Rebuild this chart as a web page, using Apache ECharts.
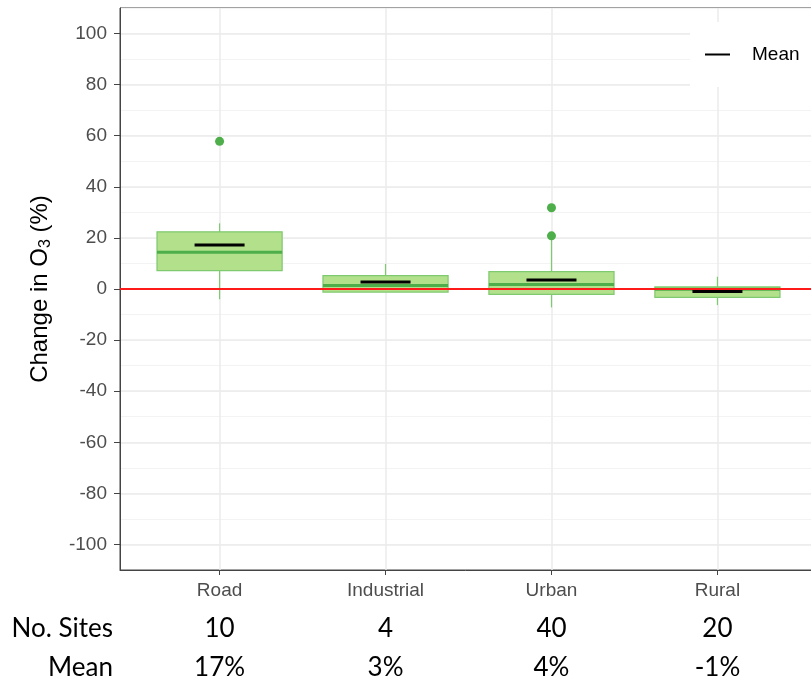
<!DOCTYPE html>
<html>
<head>
<meta charset="utf-8">
<script src="https://cdn.jsdelivr.net/npm/echarts@6/dist/echarts.min.js"></script>
<style>html,body{margin:0;padding:0;background:#fff}#c{width:811px;height:684px}</style>
</head>
<body>
<div id="c"></div>
<script>
// ---- data ----
const categories = ['Road', 'Industrial', 'Urban', 'Rural'];
const whiskerLow = [-4.0, -1.2, -7.2, -6.3];
const q1 = [7.2, -1.2, -2.1, -3.3];
const median = [14.4, 1.4, 1.8, -0.1];
const q3 = [22.4, 5.2, 6.8, 0.8];
const whiskerHigh = [25.7, 9.8, 19.5, 4.8];
const means = [17.2, 2.7, 3.5, -1.0];
const outlierCat = [0, 2, 2];
const outlierVal = [57.8, 31.8, 20.8];
const nSites = ['10', '4', '40', '20'];
const meanLabels = ['17%', '3%', '4%', '-1%'];

const boxRows = categories.map((c, i) => [i, whiskerLow[i], q1[i], median[i], q3[i], whiskerHigh[i]]);
const meanPts = means.map((m, i) => [i, m]);
const outlierPts = outlierVal.map((v, i) => [outlierCat[i], v]);

const xMin = -0.6, xMax = 3.6;
const catFmt = arr => v => (Math.abs(v - Math.round(v)) < 1e-6 && arr[Math.round(v)] !== undefined) ? arr[Math.round(v)] : '';

const chart = echarts.init(document.getElementById('c'));
const baseFont = 'Liberation Sans, Arial, sans-serif';
const rowFont = 'Lato, Liberation Sans, sans-serif';

function rowAxis(labels, offset, name) {
  return {
    type: 'value', min: xMin, max: xMax, position: 'bottom', offset: offset,
    axisLine: { show: false, onZero: false }, axisTick: { show: false }, splitLine: { show: false },
    axisLabel: { formatter: catFmt(labels), margin: 0, verticalAlign: 'middle',
      fontSize: 26, color: '#000', fontFamily: rowFont, showMinLabel: false, showMaxLabel: false },
    name: name, nameLocation: 'start', nameGap: 7,
    nameTextStyle: { fontSize: 26, color: '#000', fontFamily: rowFont, align: 'right', verticalAlign: 'middle' }
  };
}

chart.setOption({
  animation: false,
  grid: { left: 120, top: 8, width: 697, height: 562, show: true, borderColor: '#444', borderWidth: 1,
    backgroundColor: 'transparent', containLabel: false, outerBoundsMode: 'none' },
  legend: {
    data: ['Mean'], left: 690, top: 22, backgroundColor: '#fff',
    padding: [23, 20, 23, 15], icon: 'rect', itemWidth: 25, itemHeight: 2,
    itemStyle: { opacity: 1 },
    textStyle: { fontSize: 19, color: '#000', fontFamily: baseFont, padding: [0, 0, 0, 17] }
  },
  xAxis: [
    {
      type: 'value', min: xMin, max: xMax, position: 'bottom',
      axisLine: { show: true, onZero: false, lineStyle: { color: '#444', width: 1 } },
      axisTick: { show: true, length: 5, lineStyle: { color: '#444' } },
      splitLine: { show: true, showMinLine: false, showMaxLine: false, lineStyle: { color: '#ebebeb', width: 1.5 } },
      axisLabel: { formatter: catFmt(categories), margin: 21, verticalAlign: 'middle', fontSize: 19, color: '#4d4d4d', fontFamily: baseFont, showMinLabel: false, showMaxLabel: false }
    },
    rowAxis(nSites, 59, 'No. Sites'),
    rowAxis(meanLabels, 98, 'Mean')
  ],
  yAxis: [
    {
      type: 'value', min: -110, max: 110, interval: 10, position: 'left',
      axisLine: { show: false, onZero: false }, axisTick: { show: false }, axisLabel: { show: false },
      splitLine: { show: true, lineStyle: { color: '#f3f3f3', width: 1 } }
    },
    {
      type: 'value', min: -110, max: 110, splitNumber: 11, position: 'left', offset: 0,
      axisLine: { show: true, onZero: false, lineStyle: { color: '#444', width: 1 } },
      axisTick: { show: true, length: 6, lineStyle: { color: '#444' } },
      splitLine: { show: true, showMinLine: false, showMaxLine: false, lineStyle: { color: '#ebebeb', width: 1.5 } },
      axisLabel: { margin: 13, fontSize: 19, color: '#4d4d4d', fontFamily: baseFont, showMinLabel: false, showMaxLabel: false },
      name: '{t|Change in O}{s|3}{t| (%)}', nameLocation: 'middle', nameGap: 66,
      nameTextStyle: {
        rich: {
          t: { fontSize: 24, color: '#000', fontFamily: baseFont, lineHeight: 28, verticalAlign: 'middle' },
          s: { fontSize: 16, color: '#000', fontFamily: baseFont, verticalAlign: 'bottom', lineHeight: 14 }
        }
      }
    }
  ],
  series: [
    {
      type: 'scatter', name: 'zero', data: [], xAxisIndex: 0, yAxisIndex: 1, z: 1,
      markLine: { silent: true, symbol: 'none', label: { show: false },
        lineStyle: { color: '#ff1a1a', width: 2, type: 'solid' }, data: [{ yAxis: 0 }] }
    },
    {
      type: 'custom', name: 'box', data: boxRows, xAxisIndex: 0, yAxisIndex: 1, z: 2,
      encode: { x: 0, y: [1, 2, 3, 4, 5] },
      renderItem: function (params, api) {
        const x = api.value(0);
        const lo = api.coord([x, api.value(1)]);
        const b1 = api.coord([x, api.value(2)]);
        const md = api.coord([x, api.value(3)]);
        const b3 = api.coord([x, api.value(4)]);
        const hi = api.coord([x, api.value(5)]);
        const hw = api.size([0.754, 0])[0] / 2;
        const wStyle = { stroke: '#7fc96f', lineWidth: 1.2 };
        return {
          type: 'group', children: [
            { type: 'line', shape: { x1: lo[0], y1: lo[1], x2: b1[0], y2: b1[1] }, style: wStyle },
            { type: 'line', shape: { x1: b3[0], y1: b3[1], x2: hi[0], y2: hi[1] }, style: wStyle },
            { type: 'rect', shape: { x: b3[0] - hw, y: b3[1], width: 2 * hw, height: b1[1] - b3[1] },
              style: { fill: '#b2e08b', stroke: '#7fc96f', lineWidth: 1.2 } },
            { type: 'line', shape: { x1: md[0] - hw, y1: md[1], x2: md[0] + hw, y2: md[1] },
              style: { stroke: '#4dae4a', lineWidth: 3 } }
          ]
        };
      }
    },
    {
      type: 'scatter', name: 'outliers', data: outlierPts, xAxisIndex: 0, yAxisIndex: 1, z: 3,
      symbol: 'circle', symbolSize: 9, itemStyle: { color: '#4dae4a', opacity: 1 }, silent: true
    },
    {
      type: 'scatter', name: 'Mean', data: meanPts, xAxisIndex: 0, yAxisIndex: 1, z: 4,
      symbol: 'rect', symbolSize: [50, 3], itemStyle: { color: '#000', opacity: 1 }, silent: true
    }
  ]
});
</script>
</body>
</html>
